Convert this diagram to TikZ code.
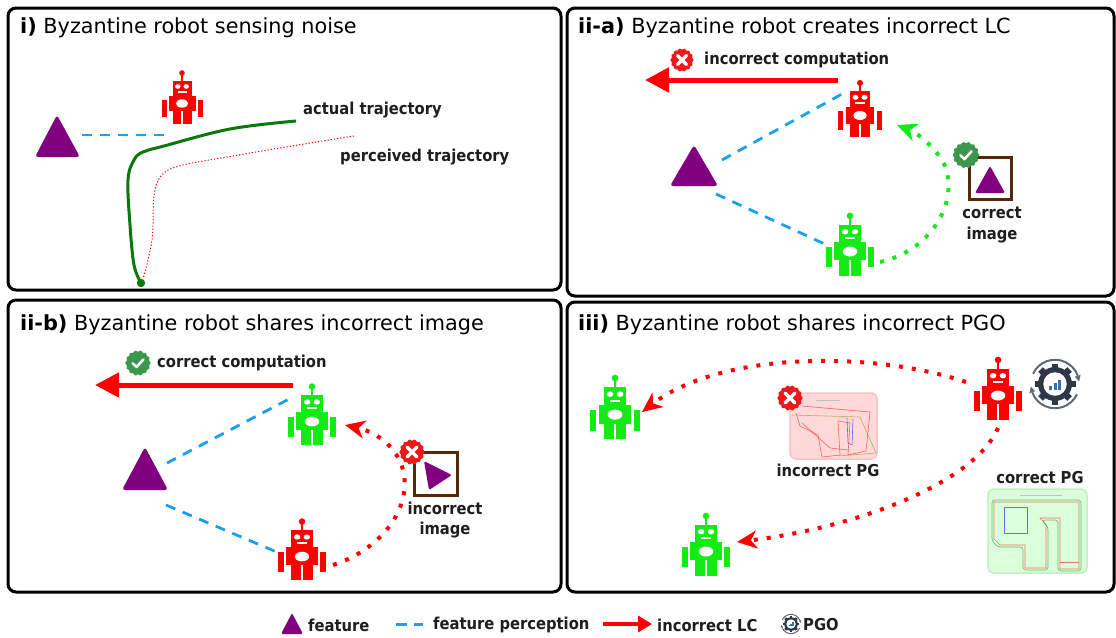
\documentclass[tikz,border=0pt]{standalone}
\usepackage{fontspec}
\setmainfont{DejaVu Sans}
\newfontfamily\labfont{DejaVu Sans Condensed}
\usetikzlibrary{arrows.meta}

\definecolor{feat}{RGB}{128,0,128}
\definecolor{percep}{RGB}{25,160,240}
\definecolor{rred}{RGB}{255,0,0}
\definecolor{rgreen}{RGB}{20,235,20}
\definecolor{traj}{RGB}{10,120,10}
\definecolor{framebrown}{RGB}{85,40,10}
\definecolor{geardark}{RGB}{45,55,70}
\definecolor{gearblue}{RGB}{55,110,180}
\definecolor{okgreen}{RGB}{60,150,75}
\definecolor{badred}{RGB}{235,25,25}
\definecolor{pgokfill}{RGB}{218,255,218}
\definecolor{pgokedge}{RGB}{195,240,195}
\definecolor{pgbadfill}{RGB}{255,216,216}
\definecolor{pgbadedge}{RGB}{245,195,195}
\definecolor{labtext}{RGB}{30,30,30}

% robot icon, drawn around the body centre
\newcommand\robotparts[1]{%
  \fill[#1] (0,-30) circle (2.8);
  \fill[#1] (-0.8,-28) rectangle (0.8,-22);
  \fill[#1] (-9.5,-22.5) rectangle (9.5,-7);
  \fill[white] (-4.2,-16.5) ellipse (2.8 and 2.3);
  \fill[white] (4.2,-16.5) ellipse (2.8 and 2.3);
  \fill[white] (-4.5,-12) rectangle (4.5,-10.3);
  \fill[#1] (-13.5,-7.5) rectangle (13.5,8);
  \fill[white] (0,0.5) ellipse (6.2 and 4.2);
  \fill[#1] (-20.5,-3.5) rectangle (-15.5,14);
  \fill[#1] (15.5,-3.5) rectangle (20.5,14);
  \fill[#1] (-9.5,8) rectangle (-1.2,21);
  \fill[#1] (1.2,8) rectangle (9.5,21);
}

% pose-graph-optimisation gear, unit radius
\newcommand\gearparts[1]{%
  \draw[geardark!75, line width=#1] (25:0.97) arc (25:160:0.97);
  \draw[geardark!75, line width=#1] (205:0.97) arc (205:340:0.97);
  \fill[geardark!75] (160:0.85) -- (160:1.09) -- (174:0.97) -- cycle;
  \fill[geardark!75] (340:0.85) -- (340:1.09) -- (354:0.97) -- cycle;
  \fill[geardark] (0,0) circle (0.68);
  \foreach \a in {0,45,...,315}
    \fill[geardark, rotate=\a] (-0.13,0.55) rectangle (0.13,0.82);
  \fill[white] (0,0) circle (0.47);
  \fill[gearblue] (-0.25,0.22) rectangle (-0.13,0.06);
  \fill[gearblue] (-0.06,0.22) rectangle (0.06,-0.05);
  \fill[gearblue] (0.13,0.22) rectangle (0.25,-0.17);
}

\newcommand\badgeoutline{plot[domain=0:360,samples=121] (\x:{1+0.05*cos(14*\x)}) -- cycle}

\tikzset{
  pics/robot/.style={code={\robotparts{#1}}},
  pics/gear/.style={code={\gearparts{#1}}},
  pics/xbadge/.style={code={
    \fill[badred] \badgeoutline;
    \draw[white, line width=#1, line cap=round] (-0.4,-0.4) -- (0.4,0.4) (-0.4,0.4) -- (0.4,-0.4);
  }},
  pics/okbadge/.style={code={
    \fill[okgreen] \badgeoutline;
    \draw[white, line width=#1, line cap=round, line join=round] (-0.45,0.02) -- (-0.12,0.33) -- (0.45,-0.3);
  }},
  maptrace/.style={line width=0.6, opacity=0.55},
  pics/pgok/.style={code={
    \fill[pgokfill, rounded corners=6] (0,0) rectangle (99,84);
    \draw[pgokedge, line width=1.5, rounded corners=6] (0,0) rectangle (99,84);
    \draw[gray!50, line width=1] (32,6) -- (74,6);
    \draw[maptrace, green!50!black, rounded corners=3] (4,11) -- (93,11) -- (93,82) -- (70,82) -- (70,31) -- (54,31) -- (60,38) -- (60,81) -- (35,81) -- (35,58) -- (10,58) -- (4,52) -- cycle;
    \draw[maptrace, red] (6,13) -- (91,13) -- (91,80) -- (72,80) -- (72,29) -- (52,29) -- (58,36) -- (58,79) -- (37,79) -- (37,56) -- (12,56) -- (6,50) -- cycle;
    \draw[maptrace, red] (72,73) -- (91,73);
    \draw[maptrace, blue] (16,18) rectangle (39,44);
  }},
  pics/pgbad/.style={code={
    \fill[pgbadfill, rounded corners=6] (0,0) rectangle (87,66);
    \draw[pgbadedge, line width=1.5, rounded corners=6] (0,0) rectangle (87,66);
    \draw[gray!50, line width=1] (26,7) -- (50,7);
    \draw[maptrace, olive] (2,22) -- (70,24) -- (86,60) -- (48,63);
    \draw[maptrace, red] (12,13) -- (80,19) -- (76,58) -- (58,62) -- (60,30) -- (48,28) -- (50,62) -- (32,64) -- (28,42) -- (10,33) -- (6,20);
    \draw[maptrace, red] (12,30) -- (40,55) -- (58,57);
    \draw[maptrace, blue] (57,25) -- (58,50) -- (62,52) -- (63,26);
  }},
  panel/.style={draw=black, line width=3, rounded corners=8},
  title/.style={anchor=west, inner sep=0, font=\fontsize{20.8}{25}\selectfont},
  lab/.style={inner sep=0, text=labtext, font=\labfont\bfseries\fontsize{16.4}{20.5}\selectfont},
  percept/.style={draw=percep, line width=2.8, dash pattern=on 10pt off 8pt},
  lcarrow/.style={draw=lc, line width=5, -{Triangle[length=24pt,width=24pt]}},
  share/.style={line width=4, dash pattern=on 4pt off 9pt, -{Stealth[length=20pt,width=18pt,inset=6pt]}},
  imgbox/.style={draw=framebrown, line width=3},
}
\colorlet{lc}{rred}

\begin{document}
\begin{tikzpicture}[x=1pt,y=-1pt]
\useasboundingbox (0,0) rectangle (1116,637);

% ---------- panel frames ----------
\draw[panel] (8,8) rectangle (561,290);
\draw[panel] (567,8) rectangle (1114,296);
\draw[panel] (8,300) rectangle (561,592);
\draw[panel] (567,302) rectangle (1114,592);

\node[title] (t1) at (20,28) {\textbf{i)} Byzantine robot sensing noise};
\node[title] (t2) at (578,28) {\textbf{ii-a)} Byzantine robot creates incorrect LC};
\node[title] (t3) at (20,325) {\textbf{ii-b)} Byzantine robot shares incorrect image};
\node[title] (t4) at (578,325) {\textbf{iii)} Byzantine robot shares incorrect PGO};

% ---------- i) sensing noise ----------
\fill[feat, rounded corners=3] (57,115) -- (80,157) -- (35,157) -- cycle;
\coordinate (i-f) at (82,135);
\coordinate (i-r) at (171,135);
\draw[percept] (i-f) -- (i-r);
\pic at (182,103) {robot=rred};
\draw[traj, line width=3] plot[smooth, tension=0.6] coordinates
  {(296,121) (230,129) (164,146) (143,152) (134,160) (128,180) (130,225) (134,265) (141,283)};
\fill[traj] (141,283) circle (4.2);
\draw[rred, line width=1, dash pattern=on 1.2pt off 2pt] plot[smooth, tension=0.6] coordinates
  {(354,136) (286,147) (221,158) (179,166) (161,176) (154,196) (152,240) (143,279)};
\node[lab, anchor=west] (i-act) at (303,110) {actual trajectory};
\node[lab, anchor=west] (i-per) at (340,157) {perceived trajectory};

% ---------- ii-a) incorrect loop closure ----------
\coordinate (a-lcs) at (838,80);
\coordinate (a-lce) at (645,80);
\draw[lcarrow] (a-lcs) -- (a-lce);
\pic[scale=11] at (682,60) {xbadge=3.5pt};
\node[lab, anchor=west] (a-lab) at (704,60) {incorrect computation};
\pic[scale=1.07] at (860,115) {robot=rred};
\fill[feat, rounded corners=3] (694,145) -- (718,186) -- (670,186) -- cycle;
\coordinate (a-fu) at (722,160);
\coordinate (a-ru) at (842,94);
\coordinate (a-fl) at (716,194);
\coordinate (a-gl) at (829,246);
\draw[percept] (a-fu) -- (a-ru);
\draw[percept] (a-fl) -- (a-gl);
\pic[scale=1.17] at (850,251) {robot=rgreen};
\coordinate (a-go) at (880,262);
\coordinate (a-gi) at (897,125);
\draw[share, rgreen] (a-go) .. controls (935,250) and (962,195) .. (942,160)
  .. controls (930,142) and (915,132) .. (a-gi);
\draw[imgbox] (969,157) rectangle (1011,199);
\fill[feat, rounded corners=2] (990,166) -- (1005,193) -- (975,193) -- cycle;
\pic[scale=12.5] at (966,155) {okbadge=2.5pt};
\node[lab, align=center] (a-img) at (992,225) {correct\\image};

% ---------- ii-b) incorrect image ----------
\coordinate (b-lcs) at (293,385);
\coordinate (b-lce) at (95,385);
\draw[lcarrow] (b-lcs) -- (b-lce);
\pic[scale=12] at (138,363) {okbadge=2.5pt};
\node[lab, anchor=west] (b-lab) at (157,363) {correct computation};
\pic[scale=1.15] at (312,421) {robot=rgreen};
\fill[feat, rounded corners=3] (145,447) -- (168,490) -- (122,490) -- cycle;
\coordinate (b-fu) at (167,463);
\coordinate (b-gu) at (291,398);
\coordinate (b-fl) at (166,505);
\coordinate (b-rl) at (279,553);
\draw[percept] (b-fu) -- (b-gu);
\draw[percept] (b-fl) -- (b-rl);
\pic[scale=1.15] at (302,556) {robot=rred};
\coordinate (b-ro) at (333,565);
\coordinate (b-ri) at (345,425);
\draw[share, rred] (b-ro) .. controls (385,548) and (412,505) .. (403,470)
  .. controls (398,450) and (380,433) .. (b-ri);
\draw[imgbox] (414,452) rectangle (457,495);
\fill[feat, rounded corners=2] (424,461) -- (452,475) -- (429,490) -- cycle;
\pic[scale=12] at (412,452) {xbadge=3.5pt};
\node[lab, align=center] (b-img) at (445,520) {incorrect\\image};

% ---------- iii) incorrect pose graph ----------
\pic[scale=1.2] at (615,414) {robot=rgreen};
\pic[scale=1.17] at (998,395) {robot=rred};
\pic[scale=25] at (1055,384) {gear=2pt};
\pic[scale=1.17] at (706,551) {robot=rgreen};
\coordinate (c-ro1) at (966,382);
\coordinate (c-gi1) at (642,412);
\coordinate (c-ro2) at (998,428);
\coordinate (c-gi2) at (737,542);
\draw[share, rred] (c-ro1) .. controls (870,350) and (720,352) .. (c-gi1);
\draw[share, rred] (c-ro2) .. controls (975,482) and (860,527) .. (c-gi2);
\pic at (790,393) {pgbad};
\pic[scale=12] at (790,398) {xbadge=3.5pt};
\node[lab] (c-bad) at (828,470) {incorrect PG};
\node[lab] (c-ok) at (1040,478) {correct PG};
\pic at (988,489) {pgok};

% ---------- legend ----------
\fill[feat, rounded corners=2] (292,613) -- (303,634) -- (281,634) -- cycle;
\node[lab, anchor=west] (l-feat) at (308,625) {feature};
\coordinate (l-d1) at (396,624);
\coordinate (l-d2) at (423,624);
\draw[draw=percep, line width=3, dash pattern=on 11pt off 7pt] (l-d1) -- (l-d2);
\node[lab, anchor=west] (l-perc) at (433,625) {feature perception};
\coordinate (l-a1) at (603,624);
\coordinate (l-a2) at (652,624);
\draw[draw=lc, line width=3.5, -{Triangle[length=14pt,width=16pt]}] (l-a1) -- (l-a2);
\node[lab, anchor=west] (l-lc) at (657,625) {incorrect LC};
\pic[scale=10] at (791,624) {gear=1pt};
\node[lab, anchor=west] (l-pgo) at (803,625) {PGO};
\end{tikzpicture}
\end{document}
